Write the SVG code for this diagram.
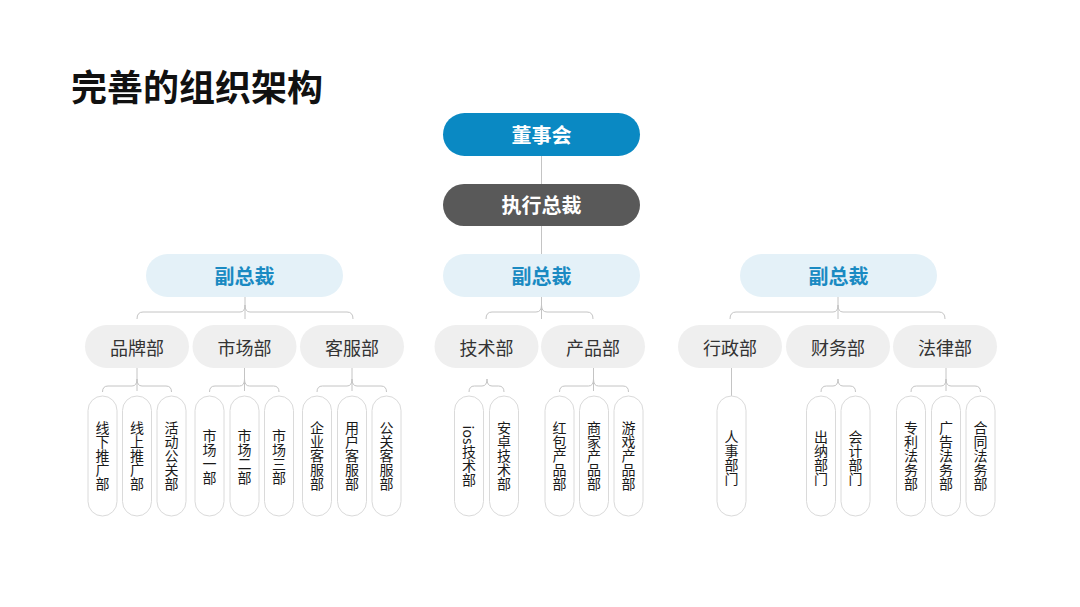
<svg xmlns="http://www.w3.org/2000/svg" width="1080" height="607" viewBox="0 0 1080 607">
<style>
text{font-family:"Noto Sans CJK SC","Noto Sans",sans-serif}
.title{font-size:36px;font-weight:700;fill:#111}
.top{font-size:20px;font-weight:700;fill:#fff;text-anchor:middle;dominant-baseline:central}
.vp{fill:#E4F1F8}
.vpt{font-size:20px;font-weight:700;fill:#1A8AC2;text-anchor:middle;dominant-baseline:central}
.dp{fill:#EFEFEF}
.dpt{font-size:18px;fill:#333;text-anchor:middle;dominant-baseline:central}
.sp{fill:#fff;stroke:#DADADA;stroke-width:1}
.spt{font-size:14px;fill:#1a1a1a;text-anchor:middle;writing-mode:vertical-rl}
.c{fill:none;stroke:#C4C4C4;stroke-width:1}
</style>
<rect width="1080" height="607" fill="#fff"/>
<text class="title" x="71" y="101">完善的组织架构</text>

<g id="connectors">
<path class="c" d="M541.5,156 V184 M541.5,226 V254"/>
<path class="c" d="M137,319 Q137,312 143,312 H240 Q245,312 245,305 Q245,312 250,312 H347 Q353,312 353,319 M245,297 V319"/>
<path class="c" d="M486,319 Q486,312 492,312 H536 Q541.5,312 541.5,305 Q541.5,312 547,312 H587 Q593,312 593,319 M541.5,297 V319"/>
<path class="c" d="M730,319 Q730,312 736,312 H833 Q838,312 838,305 Q838,312 843,312 H939 Q945,312 945,319 M838,297 V319"/>
<path class="c" d="M102.5,392 Q102.5,386 108,386 H132 Q137,386 137,379 Q137,386 142,386 H166 Q171.5,386 171.5,392 M137,368 V391"/>
<path class="c" d="M209.5,392 Q209.5,386 215,386 H239.5 Q244.5,386 244.5,379 Q244.5,386 249.5,386 H273.5 Q279,386 279,392 M244.5,368 V391"/>
<path class="c" d="M317,392 Q317,386 322.5,386 H347 Q352,386 352,379 Q352,386 357,386 H381 Q386.5,386 386.5,392 M352,368 V391"/>
<path class="c" d="M469,392 Q469,386 474.5,386 H482 Q487,386 487,379 Q487,386 492,386 H498.5 Q504,386 504,392"/>
<path class="c" d="M559.5,392 Q559.5,386 565,386 H588.5 Q593.5,386 593.5,379 Q593.5,386 598.5,386 H623 Q628.5,386 628.5,392 M593.5,368 V391"/>
<path class="c" d="M731.5,368 V396"/>
<path class="c" d="M821,392 Q821,386 826.5,386 H833 Q838,386 838,379 Q838,386 843,386 H850 Q855.5,386 855.5,392"/>
<path class="c" d="M911,392 Q911,386 916.5,386 H941 Q946,386 946,379 Q946,386 951,386 H975 Q980.5,386 980.5,392 M946,368 V391"/>
</g>

<g id="n-board"><rect x="443" y="113" width="197" height="43" rx="21.5" fill="#0A89C3"/><text class="top" x="541.5" y="134">董事会</text></g>
<g id="n-ceo"><rect x="443" y="184" width="197" height="42" rx="21" fill="#595959"/><text class="top" x="541.5" y="204.5">执行总裁</text></g>

<g id="n-vp1"><rect class="vp" x="146" y="254" width="197" height="43" rx="21.5"/><text class="vpt" x="244.5" y="275">副总裁</text></g>
<g id="n-vp2"><rect class="vp" x="443" y="254" width="197" height="43" rx="21.5"/><text class="vpt" x="541.5" y="275">副总裁</text></g>
<g id="n-vp3"><rect class="vp" x="740" y="254" width="197" height="43" rx="21.5"/><text class="vpt" x="838.5" y="275">副总裁</text></g>

<g id="d-brand"><rect class="dp" x="85" y="325" width="104" height="43" rx="21.5"/><text class="dpt" x="137" y="346.5">品牌部</text></g>
<g id="d-market"><rect class="dp" x="192.5" y="325" width="104" height="43" rx="21.5"/><text class="dpt" x="244.5" y="346.5">市场部</text></g>
<g id="d-service"><rect class="dp" x="300" y="325" width="104" height="43" rx="21.5"/><text class="dpt" x="352" y="346.5">客服部</text></g>
<g id="d-tech"><rect class="dp" x="434.5" y="325" width="104" height="43" rx="21.5"/><text class="dpt" x="486.5" y="346.5">技术部</text></g>
<g id="d-product"><rect class="dp" x="541" y="325" width="104" height="43" rx="21.5"/><text class="dpt" x="593" y="346.5">产品部</text></g>
<g id="d-admin"><rect class="dp" x="678" y="325" width="104" height="43" rx="21.5"/><text class="dpt" x="730" y="346.5">行政部</text></g>
<g id="d-finance"><rect class="dp" x="786" y="325" width="104" height="43" rx="21.5"/><text class="dpt" x="838" y="346.5">财务部</text></g>
<g id="d-legal"><rect class="dp" x="893" y="325" width="104" height="43" rx="21.5"/><text class="dpt" x="945" y="346.5">法律部</text></g>

<g id="s1"><rect class="sp" x="88" y="396" width="29" height="120" rx="14.5"/><text class="spt" x="102.5" y="456">线下推广部</text></g>
<g id="s2"><rect class="sp" x="122.5" y="396" width="29" height="120" rx="14.5"/><text class="spt" x="137" y="456">线上推广部</text></g>
<g id="s3"><rect class="sp" x="157" y="396" width="29" height="120" rx="14.5"/><text class="spt" x="171.5" y="456">活动公关部</text></g>
<g id="s4"><rect class="sp" x="195" y="396" width="29" height="120" rx="14.5"/><text class="spt" x="209.5" y="457">市场一部</text></g>
<g id="s5"><rect class="sp" x="230" y="396" width="29" height="120" rx="14.5"/><text class="spt" x="244.5" y="457">市场二部</text></g>
<g id="s6"><rect class="sp" x="264.5" y="396" width="29" height="120" rx="14.5"/><text class="spt" x="279" y="457">市场三部</text></g>
<g id="s7"><rect class="sp" x="302.5" y="396" width="29" height="120" rx="14.5"/><text class="spt" x="317" y="456">企业客服部</text></g>
<g id="s8"><rect class="sp" x="337.5" y="396" width="29" height="120" rx="14.5"/><text class="spt" x="352" y="456">用户客服部</text></g>
<g id="s9"><rect class="sp" x="372" y="396" width="29" height="120" rx="14.5"/><text class="spt" x="386.5" y="456">公关客服部</text></g>
<g id="s10"><rect class="sp" x="454.5" y="396" width="29" height="120" rx="14.5"/><text class="spt" x="469" y="456">ios技术部</text></g>
<g id="s11"><rect class="sp" x="489.5" y="396" width="29" height="120" rx="14.5"/><text class="spt" x="504" y="456">安卓技术部</text></g>
<g id="s12"><rect class="sp" x="545" y="396" width="29" height="120" rx="14.5"/><text class="spt" x="559.5" y="456">红包产品部</text></g>
<g id="s13"><rect class="sp" x="579.5" y="396" width="29" height="120" rx="14.5"/><text class="spt" x="594" y="456">商家产品部</text></g>
<g id="s14"><rect class="sp" x="614" y="396" width="29" height="120" rx="14.5"/><text class="spt" x="628.5" y="456">游戏产品部</text></g>
<g id="s15"><rect class="sp" x="717" y="396" width="29" height="120" rx="14.5"/><text class="spt" x="731.5" y="457.5">人事部门</text></g>
<g id="s16"><rect class="sp" x="806.5" y="396" width="29" height="120" rx="14.5"/><text class="spt" x="821" y="457.5">出纳部门</text></g>
<g id="s17"><rect class="sp" x="841" y="396" width="29" height="120" rx="14.5"/><text class="spt" x="855.5" y="457.5">会计部门</text></g>
<g id="s18"><rect class="sp" x="896.5" y="396" width="29" height="120" rx="14.5"/><text class="spt" x="911" y="456">专利法务部</text></g>
<g id="s19"><rect class="sp" x="931.5" y="396" width="29" height="120" rx="14.5"/><text class="spt" x="946" y="456">广告法务部</text></g>
<g id="s20"><rect class="sp" x="966" y="396" width="29" height="120" rx="14.5"/><text class="spt" x="980.5" y="456">合同法务部</text></g>
</svg>
